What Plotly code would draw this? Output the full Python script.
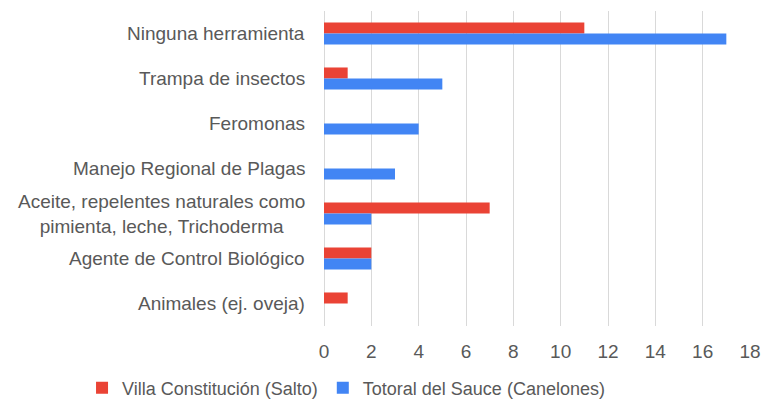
import plotly.graph_objects as go

categories = [
    "Ninguna herramienta",
    "Trampa de insectos",
    "Feromonas",
    "Manejo Regional de Plagas",
    "Aceite, repelentes naturales como<br>pimienta, leche, Trichoderma",
    "Agente de Control Biológico",
    "Animales (ej. oveja)",
]
villa = [11, 1, 0, 0, 7, 2, 1]
totoral = [17, 5, 4, 3, 2, 2, 0]
series_names = ["Villa Constitución (Salto)", "Totoral del Sauce (Canelones)"]
x_ticks = [0, 2, 4, 6, 8, 10, 12, 14, 16, 18]

FONT = "Arial, Liberation Sans, sans-serif"
GREY = "#595959"
FS = 19

fig = go.Figure()
fig.add_trace(go.Bar(y=categories, x=villa, orientation="h", name=series_names[0],
                     marker=dict(color="#EA4335", line=dict(width=0))))
fig.add_trace(go.Bar(y=categories, x=totoral, orientation="h", name=series_names[1],
                     marker=dict(color="#4285F4", line=dict(width=0))))

for c in categories:
    fig.add_annotation(x=0, xref="paper", y=c, yref="y", text=c, showarrow=False,
                       xanchor="right", yanchor="middle", align="center", xshift=-17,
                       font=dict(family=FONT, size=FS, color=GREY))

fig.update_layout(
    width=763, height=401,
    margin=dict(l=324, r=13, t=11, b=75, autoexpand=False),
    paper_bgcolor="white", plot_bgcolor="white",
    barmode="group", bargap=0.51, bargroupgap=0,
    font=dict(family=FONT, size=FS, color=GREY),
    xaxis=dict(range=[0, 18], tickvals=x_ticks, showgrid=True, gridcolor="#d9d9d9",
               gridwidth=1, zeroline=True, zerolinecolor="#d9d9d9", zerolinewidth=1,
               showline=False, ticks="", tickfont=dict(family=FONT, size=FS, color=GREY),
               ticklabelstandoff=12, automargin=False, ticklabeloverflow="allow"),
    yaxis=dict(autorange="reversed", showticklabels=False, showgrid=False,
               zeroline=False, showline=False, ticks="", automargin=False),
    legend=dict(orientation="h", x=-0.568, xanchor="left",
                y=-0.138, yanchor="top",
                font=dict(family=FONT, size=18, color=GREY), traceorder="normal",
                itemwidth=30),
    showlegend=True,
)

fig.write_html("out.html", config={"displayModeBar": False},
               post_script="document.body.style.margin='0';")
